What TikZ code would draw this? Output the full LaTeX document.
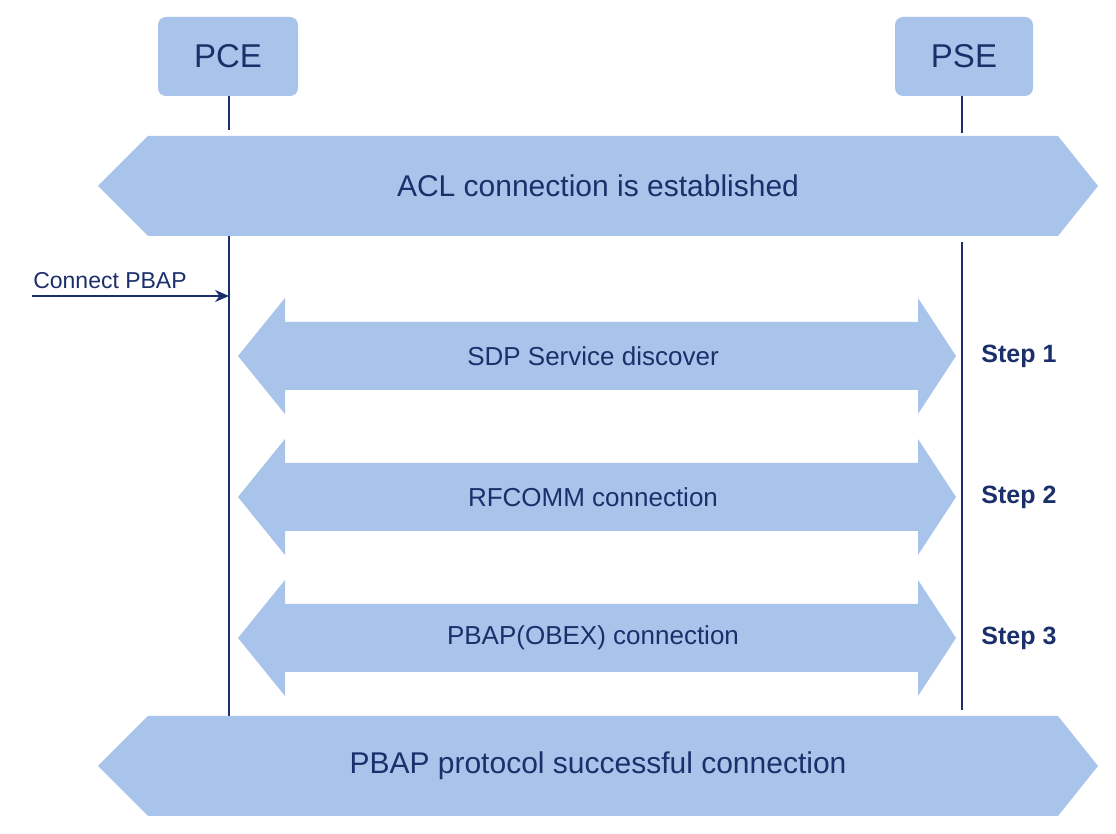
\documentclass[tikz,border=0pt]{standalone}
\usepackage{fontspec}
\setmainfont{Liberation Sans}
\usetikzlibrary{arrows.meta}
\definecolor{fillb}{HTML}{A9C4EA}
\definecolor{txt}{HTML}{1B2F6B}
\begin{document}
\begin{tikzpicture}[x=0.5pt,y=-0.5pt,
  box/.style={fill=fillb,draw=none,rounded corners=4pt},
  line/.style={draw=txt,line width=0.8pt},
  t/.style={text=txt,inner sep=0pt}]
\useasboundingbox (0,0) rectangle (1116,834);
% actors
\filldraw[box] (158,17) rectangle (298,96);
\node[t,font=\fontsize{16.5}{18}\selectfont] (pce) at (228,56) {PCE};
\filldraw[box] (895,17) rectangle (1033,96);
\node[t,font=\fontsize{16.5}{18}\selectfont] (pse) at (964,56) {PSE};
% lifelines
\draw[line] (229,96) -- (229,130);
\draw[line] (229,236) -- (229,718);
\draw[line] (962,96) -- (962,133);
\draw[line] (962,242) -- (962,710);
% big hexagons
\fill[fillb] (98,186) -- (148,136) -- (1058,136) -- (1098,186) -- (1058,236) -- (148,236) -- cycle;
\node[t,font=\fontsize{15}{17}\selectfont] (acl) at (598,186) {ACL connection is established};
\fill[fillb] (98,766) -- (148,716) -- (1058,716) -- (1098,766) -- (1058,816) -- (148,816) -- cycle;
\node[t,font=\fontsize{15}{17}\selectfont] (succ) at (598,766) {PBAP protocol successful connection};
% double arrows
\foreach \c/\lab/\st in {356/SDP Service discover/Step 1,497/RFCOMM connection/Step 2,638/PBAP(OBEX) connection/Step 3}{
  \fill[fillb] (238,\c) -- (285,\c-58) -- (285,\c-34) -- (918,\c-34) -- (918,\c-58) -- (956,\c) -- (918,\c+58) -- (918,\c+34) -- (285,\c+34) -- (285,\c+58) -- cycle;
  \node[t,font=\fontsize{13}{15}\selectfont] at (593,\c) {\lab};
  \node[t,font=\fontsize{12.5}{15}\selectfont\bfseries] at (1019,\c) {\st};
}
% connect PBAP
\coordinate (cs) at (32,296);
\coordinate (ce) at (229,296);
\draw[line,-{Stealth[length=7pt,width=6pt]}] (cs) -- (ce);
\node[t,font=\fontsize{11.5}{13}\selectfont] (cl) at (110,281) {Connect PBAP};
\end{tikzpicture}
\end{document}
